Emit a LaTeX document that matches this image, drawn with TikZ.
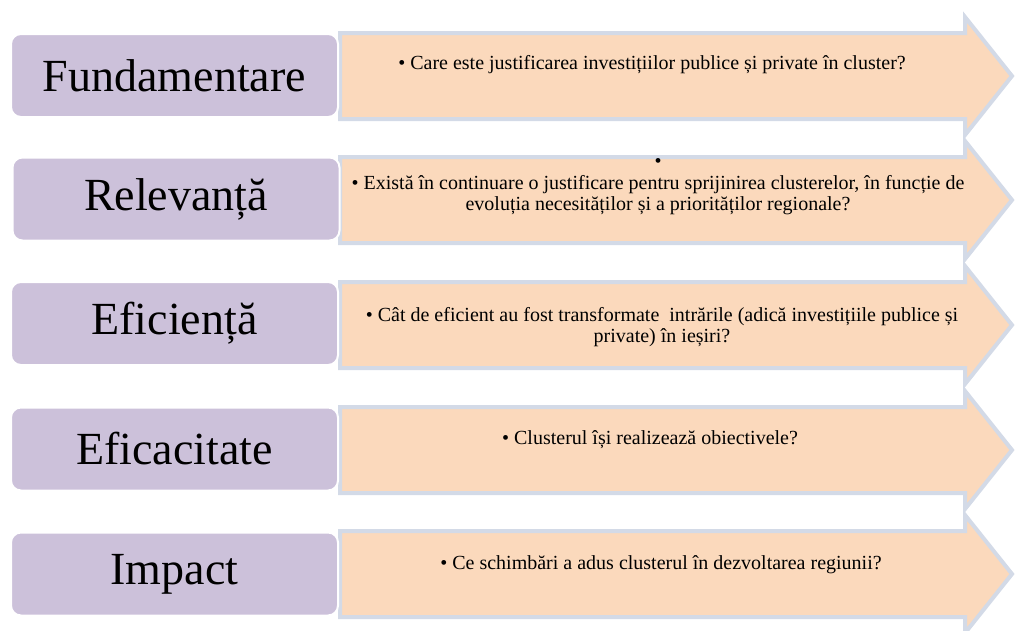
\documentclass[tikz,border=0pt]{standalone}
\usepackage{fontspec}
\setmainfont{Liberation Serif}
\usepackage{tikz}

\definecolor{boxpurple}{HTML}{CCC1DA}
\definecolor{arroworange}{HTML}{FBD9BC}
\definecolor{arrowedge}{HTML}{D3DAE7}

\begin{document}
\begin{tikzpicture}[x=1pt, y=-1pt,
        label/.style={rectangle, rounded corners=10pt, fill=boxpurple, draw=white, line width=2pt,
            minimum width=327pt, minimum height=83pt, font=\fontsize{46}{52}\selectfont},
        question/.style={align=center, font=\fontsize{20}{21.5}\selectfont},
        band/.style={fill=arroworange, draw=arrowedge, line width=4pt, line join=miter}]
        \useasboundingbox (0,0) rectangle (1016,630);
        % arrows behind the labels
        \foreach \c in {76,200,325,450,574}
            \draw [band] (340,\c-43) -- (965,\c-43) -- (965,\c-59) -- (1012,\c)
                -- (965,\c+59) -- (965,\c+43) -- (340,\c+43) -- cycle;
        \node [label] (fund) at (174.5,75.5) {Fundamentare};
        \node [label] (rel) at (176,199) {Relevanță};
        \node [label] (efic) at (174.5,323.5) {Eficiență};
        \node [label] (eficac) at (174.5,449) {Eficacitate};
        \node [label] (imp) at (174.5,574) {Impact};
        \node [question] (q1) at (652,65) {• Care este justificarea investițiilor publice și private în cluster?};
        \node [question] (q2) at (658,187) {•\\ • Există în continuare o justificare pentru sprijinirea clusterelor, în funcție de\\ evoluția necesităților și a priorităților regionale?};
        \node [question] (q3) at (662,327) {• Cât de eficient au fost transformate~ intrările (adică investițiile publice și\\ private) în ieșiri?};
        \node [question] (q4) at (650,440) {• Clusterul își realizează obiectivele?};
        \node [question] (q5) at (661,565) {• Ce schimbări a adus clusterul în dezvoltarea regiunii?};
    \end{tikzpicture}
\end{document}
